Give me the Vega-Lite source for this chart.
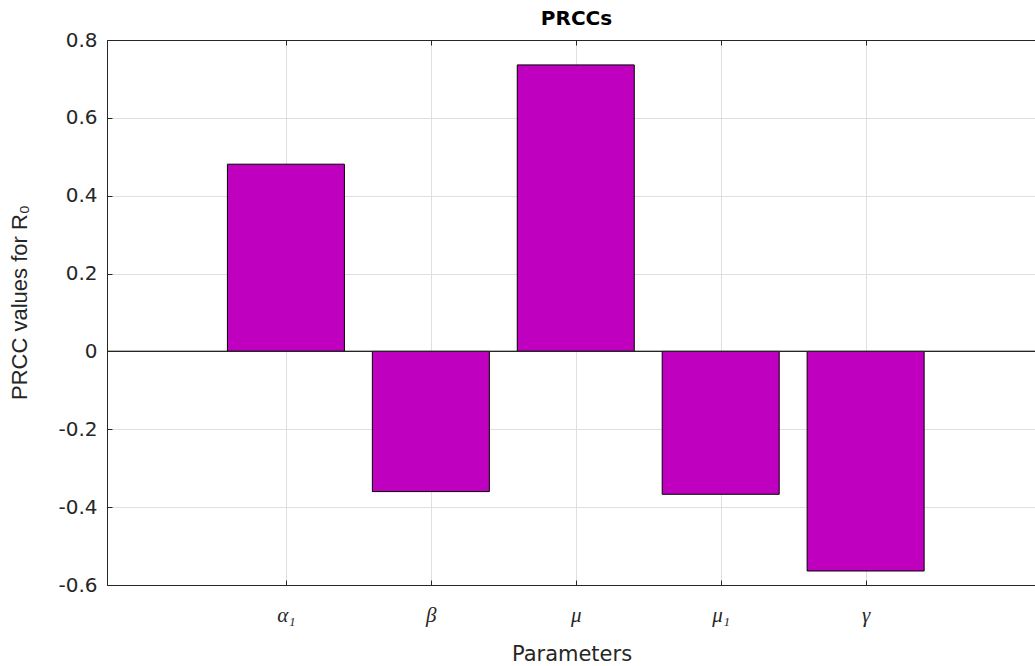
{
  "$schema": "https://vega.github.io/schema/vega-lite/v6.json",
  "width": 929,
  "height": 545,
  "autosize": {"type": "none"},
  "padding": {"left": 107, "top": 40, "right": 0, "bottom": 81},
  "background": "white",
  "title": {
    "text": "PRCCs",
    "font": "DejaVu Sans",
    "fontSize": 20,
    "fontWeight": "bold",
    "color": "#000000",
    "anchor": "middle",
    "dx": 5,
    "offset": 1
  },
  "data": {
    "values": [
      {"param": "α1", "idx": 1, "prcc": 0.481},
      {"param": "β", "idx": 2, "prcc": -0.36},
      {"param": "μ", "idx": 3, "prcc": 0.736},
      {"param": "μ1", "idx": 4, "prcc": -0.367},
      {"param": "γ", "idx": 5, "prcc": -0.564}
    ]
  },
  "config": {
    "view": {"stroke": null},
    "axis": {
      "domain": true,
      "domainColor": "#262626",
      "domainWidth": 1,
      "gridColor": "#dfdfdf",
      "gridWidth": 1,
      "tickColor": "#262626",
      "tickSize": -5,
      "labelFont": "DejaVu Sans",
      "labelFontSize": 20,
      "labelColor": "#262626",
      "titleFont": "DejaVu Sans",
      "titleFontSize": 21,
      "titleFontWeight": "normal",
      "titleColor": "#262626"
    }
  },
  "resolve": {"axis": {"x": "independent"}},
  "layer": [
    {
      "mark": {"type": "bar", "size": 117, "color": "#bf00bf", "stroke": "#000000", "strokeWidth": 1},
      "encoding": {
        "x": {
          "field": "idx",
          "type": "quantitative",
          "scale": {"domain": [-0.2, 6.141], "nice": false, "zero": false},
          "axis": {
            "values": [1, 2, 3, 4, 5],
            "labelExpr": "['', 'α₁', 'β', 'μ', 'μ₁', 'γ'][datum.value]",
            "labelFont": "Liberation Serif",
            "labelFontStyle": "italic",
            "labelFontSize": 21,
            "labelPadding": 24,
            "title": "Parameters",
            "titlePadding": 18
          }
        },
        "y": {
          "field": "prcc",
          "type": "quantitative",
          "scale": {"domain": [-0.6, 0.8], "nice": false},
          "axis": {
            "values": [-0.6, -0.4, -0.2, 0, 0.2, 0.4, 0.6, 0.8],
            "labelExpr": "'' + datum.value",
            "labelPadding": 15,
            "title": "PRCC values for R₀",
            "titleFont": "Liberation Sans",
            "titleFontSize": 22,
            "titlePadding": 26,
            "titleY": 262
          }
        }
      }
    },
    {
      "mark": {"type": "bar", "size": 117, "opacity": 0},
      "encoding": {
        "x": {
          "field": "idx",
          "type": "quantitative",
          "axis": {
            "orient": "top",
            "values": [1, 2, 3, 4, 5],
            "labels": false,
            "grid": false,
            "title": null
          }
        },
        "y": {"field": "prcc", "type": "quantitative"}
      }
    },
    {
      "mark": {"type": "rule", "color": "#262626", "strokeWidth": 1},
      "encoding": {"y": {"datum": 0, "type": "quantitative"}}
    }
  ]
}
